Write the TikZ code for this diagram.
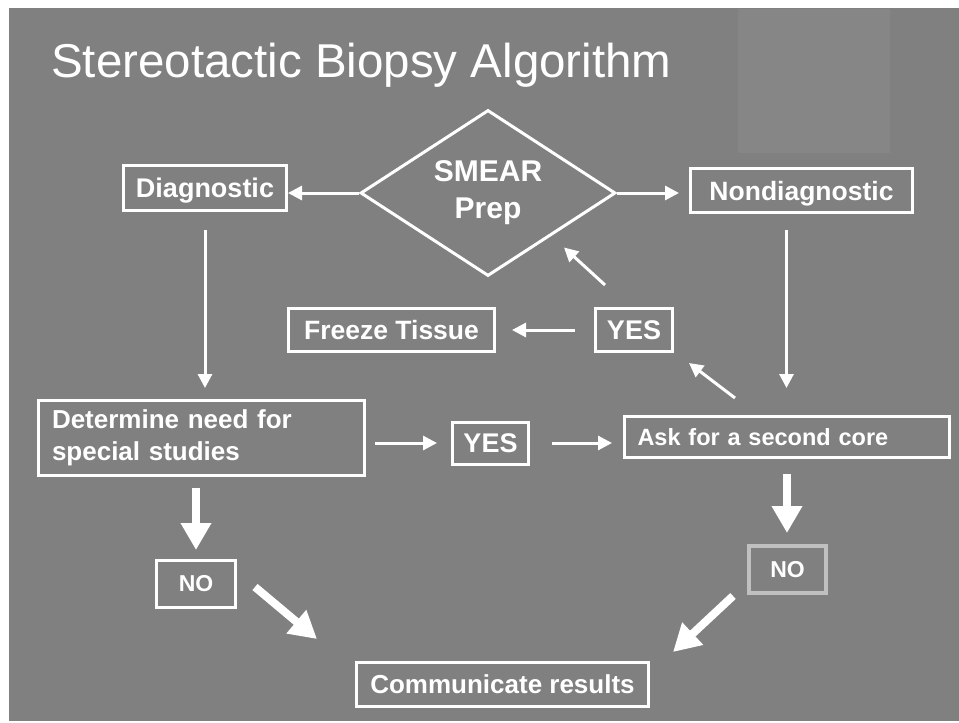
\documentclass[tikz,border=0pt]{standalone}
\usepackage{fontspec}
\setmainfont{Liberation Sans}
\usetikzlibrary{arrows.meta,shapes.geometric,calc}
\definecolor{bg}{HTML}{808080}
\definecolor{bglight}{HTML}{868686}
\definecolor{nogray}{HTML}{C0C0C0}
\begin{document}
\begin{tikzpicture}[x=1pt,y=-1pt,
  box/.style={draw=white, line width=3pt, rectangle, inner sep=0pt, text=white},
  bx/.style={font=\bfseries\fontsize{#1}{#1}\selectfont},
  thinarrow/.style={draw=white, line width=3pt, -{Triangle[length=14pt,width=14pt]}},
  thickarrow/.style={draw=white, line width=8pt, -{Triangle[length=27pt,width=29pt]}},
]
\useasboundingbox (0,0) rectangle (959,723);
\fill[white] (0,0) rectangle (959,723);
\fill[bg] (9,8) rectangle (959,721);
\fill[bglight] (738,9) rectangle (890,153);

\node[anchor=base west, text=white, inner sep=0pt, font=\fontsize{47.5}{47.5}\selectfont] (title) at (51,77) {Stereotactic Biopsy Algorithm};

\node[draw=white, line width=3pt, diamond, aspect=1.53, minimum width=255pt, minimum height=166pt, inner sep=0pt, text=white, align=center, font=\bfseries\fontsize{30}{37}\selectfont] (smear) at (488,193) {SMEAR\\Prep};

\node[box, bx=27, text depth=0pt, minimum width=163pt, minimum height=45pt] (diag) at (205,188) {Diagnostic};
\node[box, bx=26.5, text depth=0pt, minimum width=222pt, minimum height=44pt] (nondiag) at (801.5,190.5) {Nondiagnostic};
\node[box, bx=26.5, minimum width=206pt, minimum height=43pt] (freeze) at (391.5,330) {Freeze Tissue};
\node[box, bx=27, minimum width=77pt, minimum height=43pt] (yesa) at (634,330) {YES};
\node[box, font=\bfseries\fontsize{26}{32}\selectfont, minimum width=326pt, minimum height=75pt, text width=299pt, inner xsep=13.5pt, align=left] (det) at (201.5,438) {Determine need for\\special studies};
\node[box, bx=27, minimum width=76pt, minimum height=42pt] (yesb) at (490.5,443) {YES};
\node[box, bx=23.5, text depth=0pt, minimum width=325pt, minimum height=41pt, text width=299pt, inner xsep=13pt, align=left] (ask) at (787,437) {Ask for a second core};
\node[box, bx=23, minimum width=79pt, minimum height=47pt] (noa) at (196,584) {NO};
\node[box, draw=nogray, line width=4pt, bx=23, minimum width=77pt, minimum height=47pt] (nob) at (787.5,569.5) {NO};
\node[box, bx=26, minimum width=292pt, minimum height=44pt] (comm) at (502.5,684.5) {Communicate results};

% connectors
\draw[thinarrow] (smear.west) -- (smear.west -| diag.east);
\draw[thinarrow, shorten >=10pt] (smear.east) -- (smear.east -| nondiag.west);
\draw[thinarrow, shorten <=18pt, shorten >=11pt] (diag.south) -- (diag.south |- det.north);
\draw[thinarrow, shorten <=16pt, shorten >=27pt] ([xshift=-15pt]nondiag.south) -- ([xshift=-15pt]nondiag.south |- ask.north);
\draw[thinarrow, shorten <=19pt, shorten >=16pt] (yesa.west) -- (yesa.west -| freeze.east);
\draw[thinarrow] ($(yesa.north west)+(11,-22)$) -- ($(smear.south)+(76,-30)$);
\draw[thinarrow] ($(ask.north west)+(112,-17)$) -- ($(yesa.south east)+(15,10)$);
\draw[thinarrow, shorten <=9pt, shorten >=14pt] (det.east |- yesb.west) -- (yesb.west);
\draw[thinarrow, shorten <=22pt, shorten >=11pt] (yesb.east) -- (yesb.east -| ask.west);
\draw[thickarrow, shorten <=11pt, shorten >=9pt] (det.south -| noa.north) -- (noa.north);
\draw[thickarrow, shorten <=15pt, shorten >=11pt] (ask.south) -- (ask.south |- nob.north);
\draw[thickarrow] ($(noa.east)+(18,3)$) -- ($(comm.north west)+(-38,-22)$);
\draw[thickarrow] ($(nob.south west)+(-14,1)$) -- ($(comm.north east)+(23,-9)$);
\end{tikzpicture}
\end{document}
